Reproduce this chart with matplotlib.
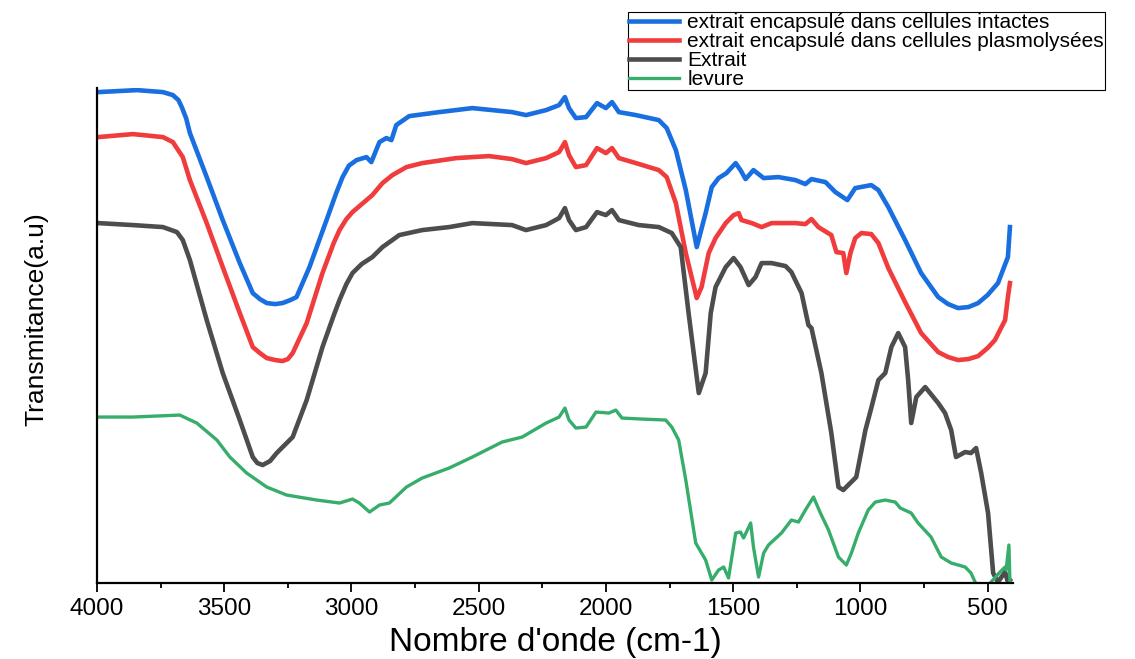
import numpy as np
import matplotlib
matplotlib.use('Agg')
import matplotlib.pyplot as plt
from matplotlib.ticker import MultipleLocator

plt.rcParams['font.family'] = ['Liberation Sans', 'DejaVu Sans']

# spectre: extrait encapsulé dans cellules intactes
w_int = [3996, 3843, 3741, 3702, 3680, 3667, 3650, 3635, 3569, 3506, 3439, 3388, 3360, 3333,
         3300, 3271, 3240, 3216, 3165, 3098, 3060, 3035, 3010, 2980, 2941, 2922, 2890, 2863,
         2843, 2824, 2773, 2655, 2525, 2369, 2314, 2235, 2184, 2161, 2145, 2118, 2078, 2035,
         2000, 1976, 1949, 1882, 1792, 1761, 1725, 1686, 1643, 1608, 1584, 1557, 1526, 1490,
         1471, 1451, 1420, 1380, 1322, 1255, 1216, 1192, 1137, 1098, 1051, 1020, 957, 929, 890,
         824, 761, 694, 655, 616, 575, 537, 500, 459, 420, 412]
t_int = [98.2, 98.6, 98.2, 97.6, 96.6, 95.2, 93.0, 90.0, 81.2, 72.6, 64.0, 58.0, 56.8, 56.0,
         55.8, 56.0, 56.6, 57.2, 63.2, 72.6, 78.0, 81.2, 83.5, 84.6, 85.2, 84.2, 88.2, 89.0,
         88.6, 91.6, 93.4, 94.2, 95.0, 94.2, 93.6, 94.6, 95.6, 97.2, 95.0, 93.0, 93.2, 96.0,
         95.0, 96.2, 94.2, 93.6, 92.6, 91.0, 86.6, 78.6, 67.2, 74.0, 79.2, 81.0, 82.0, 84.0,
         82.6, 80.8, 82.6, 81.0, 81.2, 80.6, 79.8, 80.8, 80.2, 78.2, 76.6, 79.0, 79.6, 78.6, 75.2,
         68.6, 62.0, 57.2, 55.8, 55.0, 55.2, 56.0, 57.6, 60.0, 65.2, 71.2]

# spectre: extrait encapsulé dans cellules plasmolysées
w_pla = [3996, 3859, 3741, 3702, 3663, 3635, 3569, 3506, 3439, 3388, 3360, 3333, 3300, 3271,
         3250, 3231, 3176, 3114, 3070, 3047, 3020, 2996, 2941, 2918, 2878, 2839, 2784, 2722,
         2588, 2459, 2369, 2314, 2235, 2184, 2161, 2145, 2118, 2078, 2035, 2000, 1976, 1949,
         1882, 1792, 1761, 1725, 1686, 1643, 1624, 1596, 1569, 1529, 1498, 1478, 1467, 1427,
         1388, 1349, 1255, 1216, 1192, 1165, 1114, 1094, 1067, 1055, 1039, 1020, 996, 957, 929,
         890, 824, 761, 694, 655, 616, 575, 537, 500, 471, 431, 420, 412]
t_pla = [89.2, 89.8, 89.2, 88.2, 85.2, 80.6, 72.0, 63.2, 54.0, 47.2, 46.0, 45.0, 44.6, 44.4,
         44.8, 46.0, 52.0, 62.0, 68.0, 70.6, 72.8, 74.2, 76.6, 77.6, 80.0, 81.6, 83.2, 84.0,
         85.0, 85.4, 84.8, 84.0, 85.0, 86.2, 88.2, 85.6, 83.2, 83.6, 87.0, 86.0, 87.0, 85.0,
         84.0, 82.6, 81.2, 76.0, 66.0, 57.0, 59.2, 66.0, 69.0, 72.0, 73.6, 74.0, 72.6, 72.0,
         71.2, 72.0, 72.0, 71.8, 72.8, 71.2, 69.6, 66.2, 66.0, 62.0, 66.0, 69.0, 70.0, 69.8, 68.0,
         63.0, 56.2, 50.0, 46.2, 45.2, 44.6, 44.8, 45.4, 47.0, 48.6, 52.6, 57.2, 60.0]

# spectre: Extrait
w_ext = [3996, 3859, 3741, 3686, 3663, 3635, 3569, 3506, 3439, 3388, 3370, 3349, 3320, 3294,
         3231, 3176, 3114, 3070, 3047, 3020, 2996, 2960, 2918, 2878, 2812, 2722, 2616, 2525,
         2369, 2314, 2235, 2184, 2161, 2145, 2118, 2078, 2035, 2000, 1976, 1949, 1871, 1792,
         1741, 1706, 1675, 1635, 1608, 1588, 1569, 1529, 1498, 1471, 1439, 1412, 1388, 1349,
         1294, 1271, 1231, 1204, 1192, 1153, 1114, 1086, 1067, 1016, 980, 957, 929, 902, 878,
         851, 824, 812, 800, 780, 745, 694, 667, 643, 624, 588, 565, 545, 525, 498, 478, 459,
         431, 420, 412]
t_ext = [72.0, 71.6, 71.2, 70.2, 68.6, 64.6, 52.6, 42.0, 32.6, 25.2, 24.0, 23.6, 24.4, 26.0,
         29.2, 36.6, 47.2, 53.5, 56.6, 59.8, 62.0, 63.8, 65.2, 67.2, 69.6, 70.6, 71.2, 72.0,
         71.6, 70.6, 71.6, 73.0, 75.0, 72.6, 70.6, 71.2, 74.2, 73.6, 74.6, 72.6, 71.6, 71.2,
         70.0, 67.2, 54.0, 38.0, 42.0, 54.0, 59.2, 63.2, 65.0, 63.2, 59.6, 61.2, 64.0, 64.0,
         63.4, 62.2, 58.0, 51.6, 51.0, 42.0, 30.0, 19.2, 18.6, 21.2, 30.6, 35.0, 40.6, 42.0, 47.2,
         50.0, 47.2, 40.6, 32.0, 37.2, 39.2, 36.0, 34.0, 30.6, 25.2, 26.2, 26.0, 27.0, 22.0, 14.0,
         2.0, 0.2, 2.2, 0.2, 0.6]

# spectre: levure
w_lev = [3996, 3859, 3675, 3608, 3529, 3478, 3412, 3333, 3255, 3137, 3047, 2996, 2969, 2929,
         2890, 2851, 2784, 2722, 2616, 2525, 2408, 2329, 2235, 2184, 2161, 2145, 2118, 2078,
         2039, 1988, 1961, 1937, 1859, 1765, 1741, 1714, 1686, 1647, 1608, 1584, 1557, 1537,
         1518, 1490, 1471, 1459, 1431, 1420, 1400, 1380, 1361, 1310, 1271, 1243, 1216, 1184,
         1157, 1125, 1086, 1055, 1035, 1008, 969, 941, 902, 863, 843, 800, 773, 722, 682, 643,
         588, 565, 549, 518, 486, 451, 431, 427, 416, 412]
t_lev = [33.2, 33.2, 33.6, 32.0, 28.6, 25.2, 22.0, 19.2, 17.6, 16.6, 16.0, 16.8, 16.0, 14.2,
         15.6, 16.0, 19.2, 21.0, 23.0, 25.2, 28.2, 29.2, 32.0, 33.2, 35.0, 32.6, 31.0, 31.2,
         34.2, 34.0, 34.6, 33.0, 32.8, 32.6, 31.2, 28.6, 20.6, 8.0, 4.6, 0.6, 2.6, 3.2,
         1.0, 10.0, 10.2, 9.0, 12.0, 7.2, 1.2, 6.0, 7.6, 10.0, 12.6, 12.2, 14.6, 17.2,
         14.0, 10.6, 5.2, 3.6, 6.0, 10.0, 14.6, 16.2, 16.6, 16.2, 15.0, 14.0, 12.0, 9.2, 5.2, 4.0,
         3.2, 2.0, 0.2, -2.4, 0.2, 2.2, 3.2, 2.6, 7.6, 0.2]

labels = ['extrait encapsulé dans cellules intactes',
          'extrait encapsulé dans cellules plasmolysées',
          'Extrait',
          'levure']
colors = ['#1a6fe0', '#f03c3c', '#4d4d4d', '#36ad6a']

fig = plt.figure(figsize=(11.35, 6.59), dpi=100)
ax = fig.add_axes([0.0855, 0.1153, 0.807, 0.751])

series = [(w_int, t_int), (w_pla, t_pla), (w_ext, t_ext), (w_lev, t_lev)]
widths = [3.3, 3.3, 3.3, 2.4]
for (w, t), c, lab, lw in zip(series, colors, labels, widths):
    ax.plot(w, t, color=c, lw=lw, label=lab, solid_joinstyle='round')

ax.set_xlim(4000, 400)
ax.set_ylim(0, 99)
ax.set_xticks(np.arange(4000, 499, -500))
ax.xaxis.set_minor_locator(MultipleLocator(250))
ax.set_yticks([])
ax.tick_params(axis='x', which='major', direction='out', length=6.5, width=1.3, labelsize=17.5, pad=4)
ax.tick_params(axis='x', which='minor', direction='out', length=3.5, width=1.3)
for s in ['top', 'right']:
    ax.spines[s].set_visible(False)
ax.spines['left'].set_linewidth(1.6)
ax.spines['bottom'].set_linewidth(1.6)

ax.set_xlabel("Nombre d'onde (cm-1)", fontsize=24, labelpad=5)
ax.set_ylabel('Transmitance(a.u)', fontsize=19)
ax.yaxis.set_label_coords(-0.053, 0.533)

leg = fig.legend(loc='upper left', bbox_to_anchor=(628 / 1135, 1 - 12 / 659),
                 fontsize=15, frameon=True, fancybox=False, edgecolor='black',
                 framealpha=1, borderpad=0.05, labelspacing=0.0, handlelength=2.4,
                 handletextpad=0.4, borderaxespad=0)
leg.get_frame().set_linewidth(0.8)

plt.savefig('out.png', dpi=100)
